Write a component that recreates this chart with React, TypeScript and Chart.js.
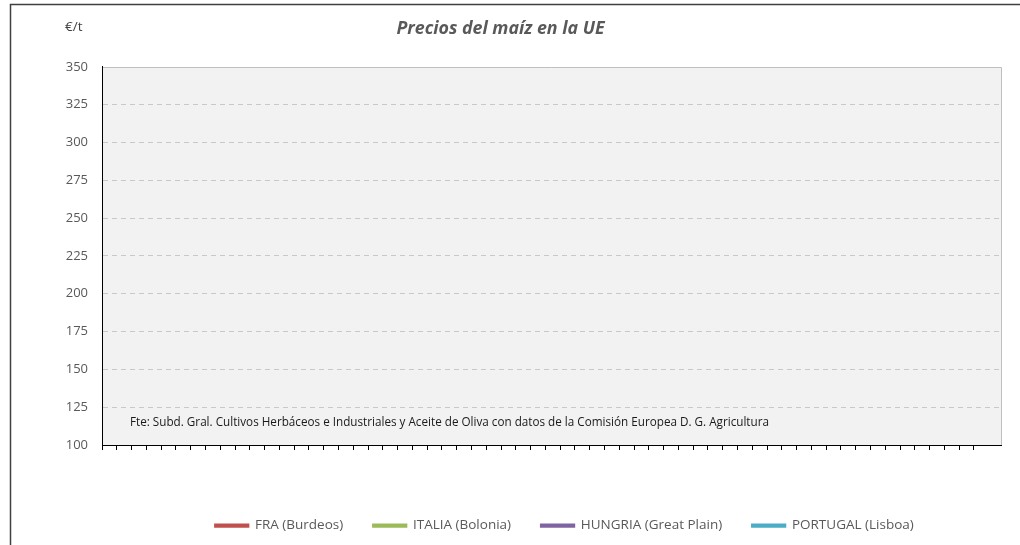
import { useEffect, useRef } from "react";
import { Chart, registerables } from "chart.js";

Chart.register(...registerables);

// ---- Data (the reference chart shows no plotted values yet) ----
const chartTitle = "Precios del maíz en la UE";
const yUnit = "€/t";
const sourceNote =
  "Fte: Subd. Gral. Cultivos Herbáceos e Industriales y Aceite de Oliva con datos de la Comisión Europea D. G. Agricultura";

const seriesNames = ["FRA (Burdeos)", "ITALIA (Bolonia)", "HUNGRIA (Great Plain)", "PORTUGAL (Lisboa)"];
const seriesColors = ["#C0504D", "#9BBB59", "#8064A2", "#4BACC6"];

const fraBurdeos: number[] = [];
const italiaBolonia: number[] = [];
const hungriaGreatPlain: number[] = [];
const portugalLisboa: number[] = [];

const yTicks = [100, 125, 150, 175, 200, 225, 250, 275, 300, 325, 350];
const xTickCount = 61; // tick marks along the (unlabelled) time axis
const xAxisMax = 60.83;

const FONT = "'Open Sans', Lato, sans-serif";

const decorPlugin = {
  id: "decor",
  beforeDraw(chart: any) {
    const { ctx, chartArea } = chart;
    const { left, top, right, bottom } = chartArea;
    ctx.save();
    ctx.fillStyle = "#F2F2F2";
    ctx.fillRect(left, top, right - left, bottom - top);
    ctx.strokeStyle = "#BFBFBF";
    ctx.lineWidth = 1;
    ctx.beginPath();
    ctx.moveTo(left, Math.round(top) + 0.5);
    ctx.lineTo(Math.round(right) + 0.5, Math.round(top) + 0.5);
    ctx.lineTo(Math.round(right) + 0.5, bottom);
    ctx.stroke();
    ctx.strokeStyle = "#404040";
    ctx.lineWidth = 1.5;
    ctx.beginPath();
    ctx.moveTo(10.5, 545);
    ctx.lineTo(10.5, 4.5);
    ctx.lineTo(1020, 4.5);
    ctx.stroke();
    ctx.restore();
  },
  afterDraw(chart: any) {
    const { ctx, chartArea } = chart;
    ctx.save();
    ctx.fillStyle = "#404040";
    ctx.font = `13.5px ${FONT}`;
    ctx.textBaseline = "middle";
    ctx.textAlign = "left";
    ctx.fillText(yUnit, 65, 27);
    ctx.fillStyle = "#1A1A1A";
    ctx.font = `11.7px ${FONT}`;
    ctx.fillText(sourceNote, chartArea.left + 28, 423);
    ctx.restore();
  },
};

const legendShiftPlugin = {
  id: "legendShift",
  afterLayout(chart: any) {
    const lg = chart.legend;
    if (lg) {
      lg.left += 64;
      lg.right += 64;
    }
  },
};

export default function App() {
  const canvasRef = useRef<HTMLCanvasElement | null>(null);

  useEffect(() => {
    if (!canvasRef.current) return;
    const seriesData = [fraBurdeos, italiaBolonia, hungriaGreatPlain, portugalLisboa];
    const chart = new Chart(canvasRef.current, {
      type: "line",
      data: {
        datasets: seriesNames.map((name, i) => ({
          label: name,
          data: seriesData[i],
          borderColor: seriesColors[i],
          backgroundColor: seriesColors[i],
          borderWidth: 2.25,
          pointRadius: 0,
          fill: false,
        })),
      },
      options: {
        responsive: false,
        animation: false,
        layout: { padding: { top: 0, left: 0, right: 19, bottom: 2.75 } },
        scales: {
          x: {
            type: "linear",
            min: 0,
            max: xAxisMax,
            afterBuildTicks: (scale: any) => {
              scale.ticks = scale.ticks.filter(
                (t: any) => Number.isInteger(t.value) && t.value < xTickCount
              );
            },
            ticks: { display: false, stepSize: 1, maxTicksLimit: 100 },
            grid: {
              display: true,
              drawOnChartArea: false,
              drawTicks: true,
              tickLength: 5,
              color: "#000000",
              lineWidth: 1,
            },
            border: { display: true, color: "#000000", width: 1 },
            title: {
              display: true,
              text: "",
              font: { size: 12 },
              padding: { top: 24.35, bottom: 0 },
            },
          },
          y: {
            min: yTicks[0],
            max: yTicks[yTicks.length - 1],
            afterFit: (scale: any) => {
              scale.width = 102;
            },
            ticks: {
              stepSize: yTicks[1] - yTicks[0],
              padding: 14,
              color: "#595959",
              font: { family: FONT, size: 13 },
            },
            grid: {
              drawTicks: false,
              color: (c: any) =>
                c.tick && (c.tick.value === yTicks[0] || c.tick.value === yTicks[yTicks.length - 1])
                  ? "rgba(0,0,0,0)"
                  : "#C8C8C8",
              lineWidth: 1,
            },
            border: { display: true, color: "#000000", width: 1, dash: [5, 4] },
          },
        },
        plugins: {
          title: {
            display: true,
            text: chartTitle,
            color: "#595959",
            font: { family: FONT, size: 17.8, style: "italic", weight: "bold" },
            padding: { top: 18.5, bottom: 27.1 },
          },
          legend: {
            display: true,
            position: "bottom",
            labels: {
              boxWidth: 33,
              boxHeight: 2,
              padding: 30,
              color: "#595959",
              font: { family: FONT, size: 13.5 },
            },
          },
          tooltip: { enabled: false },
        },
      },
      plugins: [decorPlugin, legendShiftPlugin],
    } as any);
    return () => chart.destroy();
  }, []);

  return (
    <div style={{ position: "absolute", left: 0, top: 0, width: 1020, height: 545, background: "#fff" }}>
      <canvas ref={canvasRef} width={1020} height={545} />
    </div>
  );
}
